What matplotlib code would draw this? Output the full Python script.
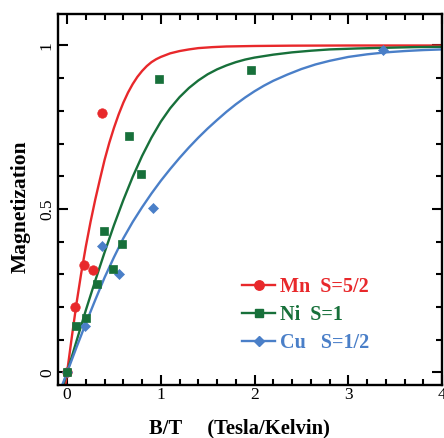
import matplotlib
matplotlib.use("Agg")
import matplotlib.pyplot as plt
from matplotlib.lines import Line2D
from matplotlib.ticker import MultipleLocator

# measured points (B/T, magnetization)
mn_x = [0.0, 0.088, 0.18, 0.276, 0.372]
mn_y = [0.0, 0.200, 0.329, 0.313, 0.792]

ni_x = [0.0, 0.095, 0.198, 0.318, 0.389, 0.495, 0.583, 0.659, 0.786, 0.977, 1.957]
ni_y = [0.0, 0.143, 0.165, 0.271, 0.432, 0.315, 0.394, 0.724, 0.606, 0.897, 0.925]

cu_x = [0.0, 0.187, 0.371, 0.555, 0.919, 3.373]
cu_y = [0.0, 0.143, 0.385, 0.300, 0.503, 0.987]

# theory curves
mn_cx = [-0.03, 0.0, 0.05, 0.1, 0.15, 0.2, 0.25, 0.3, 0.35, 0.4, 0.45, 0.5, 0.55,
         0.6, 0.65, 0.7, 0.75, 0.8, 0.85, 0.9, 0.95, 1.0, 1.1, 1.2, 1.3, 1.4,
         1.55, 1.7, 2.0, 2.4, 3.0, 4.0]
mn_cy = [-0.063, 0.0, 0.107, 0.21, 0.302, 0.385, 0.46, 0.528, 0.59, 0.65, 0.702,
         0.748, 0.789, 0.825, 0.856, 0.882, 0.904, 0.922, 0.937, 0.949, 0.958,
         0.965, 0.976, 0.983, 0.988, 0.992, 0.995, 0.997, 0.9985, 0.9995, 1.0, 1.0]

ni_cx = [-0.05, 0.0, 0.1, 0.2, 0.3, 0.4, 0.5, 0.6, 0.7, 0.8, 0.9, 1.0, 1.1, 1.2,
         1.3, 1.4, 1.5, 1.6, 1.7, 1.8, 1.9, 2.0, 2.2, 2.4, 2.6, 2.8, 3.1, 3.4,
         3.7, 4.0]
ni_cy = [-0.048, 0.0, 0.095, 0.19, 0.28, 0.367, 0.45, 0.527, 0.598, 0.662, 0.718,
         0.767, 0.808, 0.842, 0.87, 0.893, 0.912, 0.927, 0.939, 0.949, 0.957,
         0.963, 0.972, 0.979, 0.984, 0.988, 0.991, 0.993, 0.995, 0.996]

cu_cx = [-0.06, 0.0, 0.1, 0.2, 0.3, 0.4, 0.5, 0.6, 0.7, 0.8, 0.9, 1.0, 1.1, 1.2,
         1.3, 1.4, 1.5, 1.6, 1.7, 1.8, 1.9, 2.0, 2.1, 2.2, 2.35, 2.5, 2.65, 2.8,
         3.0, 3.2, 3.4, 3.6, 3.8, 4.0]
cu_cy = [-0.045, 0.0, 0.076, 0.15, 0.221, 0.29, 0.352, 0.41, 0.46, 0.505, 0.547,
         0.586, 0.622, 0.656, 0.688, 0.718, 0.746, 0.772, 0.797, 0.82, 0.841,
         0.86, 0.877, 0.892, 0.911, 0.928, 0.942, 0.953, 0.965, 0.973, 0.979,
         0.983, 0.986, 0.988]

labels = ["Mn  S=5/2", "Ni  S=1", "Cu   S=1/2"]
colors = ["#e8282b", "#17703a", "#4a7fc8"]
markers = ["o", "s", "D"]
msizes = [6.8, 6.2, 5.6]

plt.rcParams['font.family'] = ['Liberation Serif', 'DejaVu Serif']

fig = plt.figure(figsize=(4.44, 4.38), dpi=100)
ax = fig.add_axes([0.13, 0.1217, 0.8655, 0.8453])

curves = [(mn_cx, mn_cy), (ni_cx, ni_cy), (cu_cx, cu_cy)]
points = [(mn_x, mn_y), (ni_x, ni_y), (cu_x, cu_y)]

for (cx, cy), c in zip(curves, colors):
    ax.plot(cx, cy, color=c, lw=1.7, zorder=2, solid_joinstyle="round")

for i in [0, 2, 1]:
    px, py = points[i]
    ax.plot(px, py, ls="none", marker=markers[i], ms=msizes[i], color=colors[i],
            mec=colors[i], mew=0.5, zorder=3)

ax.set_xlim(-0.1, 4.0)
ax.set_ylim(-0.038, 1.095)

ax.xaxis.set_minor_locator(MultipleLocator(0.2))
ax.yaxis.set_minor_locator(MultipleLocator(0.1))
ax.set_xticks([0, 1, 2, 3, 4])
ax.set_xticklabels(["0", "1", "2", "3", "4"])
ax.set_yticks([0, 0.5, 1])
ax.set_yticklabels(["0", "0.5", "1"])

ax.tick_params(which="both", direction="in", top=True, right=True, width=1.5,
               labelsize=12.5, pad=2)
ax.tick_params(which="major", length=7)
ax.tick_params(which="minor", length=4)
plt.setp(ax.get_yticklabels(), rotation=90, va="center")
for s in ax.spines.values():
    s.set_linewidth(1.7)

ax.set_xlabel("B/T     (Tesla/Kelvin)", fontsize=14.8, fontweight="bold")
ax.xaxis.set_label_coords(0.474, -0.092)
ax.set_ylabel("Magnetization", fontsize=15.5, fontweight="bold")
ax.yaxis.set_label_coords(-0.07, 0.48)

handles = [Line2D([], [], color=c, lw=1.7, marker=m, ms=s, mec=c)
           for c, m, s in zip(colors, markers, msizes)]
leg = ax.legend(handles, labels, loc="upper left", bbox_to_anchor=(0.48, 0.291),
                frameon=False, borderpad=0, borderaxespad=0, handlelength=1.65,
                handletextpad=0.25, labelspacing=0.4,
                prop={"size": 14.5, "weight": "bold"})
for t, c in zip(leg.get_texts(), colors):
    t.set_color(c)

fig.savefig("out.png", dpi=100)
